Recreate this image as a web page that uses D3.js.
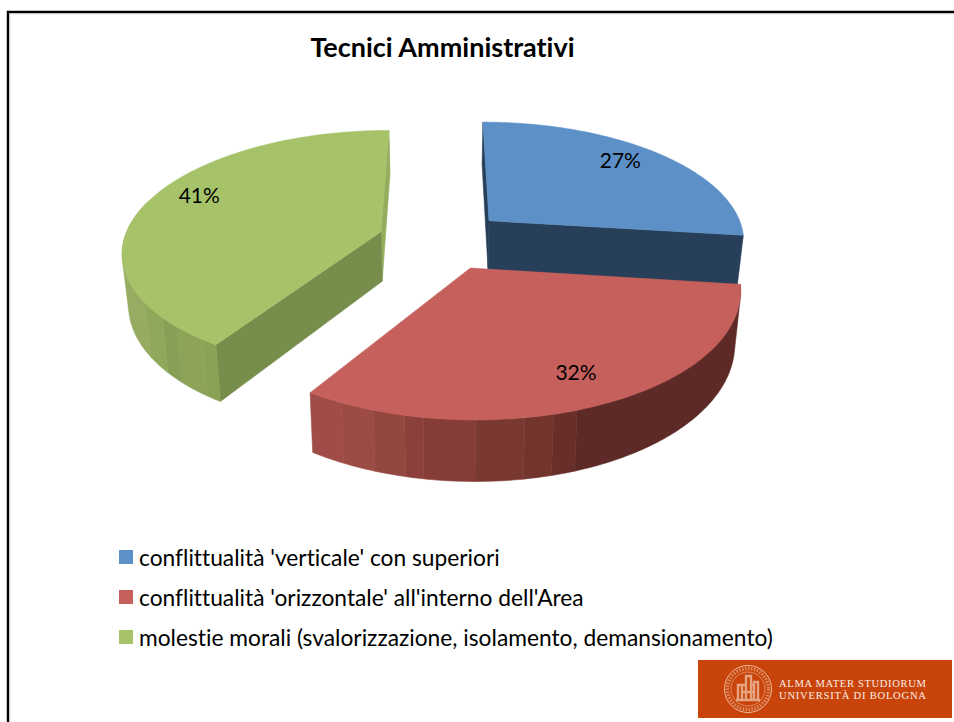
<!DOCTYPE html>
<html><head><meta charset="utf-8">
<style>html,body{margin:0;padding:0;background:#fff}svg{display:block}text{font-family:Lato,"Open Sans",sans-serif;fill:#000;font-variant-ligatures:none}</style>
<script src="https://cdn.jsdelivr.net/npm/d3@7"></script>
</head><body><svg id="c" width="954" height="722"></svg>
<script>
const title = "Tecnici Amministrativi";
const categories = ["conflittualità 'verticale' con superiori","conflittualità 'orizzontale' all'interno dell'Area","molestie morali (svalorizzazione, isolamento, demansionamento)"];
const values = [27, 32, 41];
const topColors = ["#5c90c6","#c6605c","#a7c36a"];
const cutColors = ["#273f58","#5e2a27","#768d4b"];
const sliverColors = ["#273f58","#5e2a27","#93ad5d"];
const wallBandAngles = [[],[161,165.6,171,180,189.5,193,199,205.5],[216,223.6,228.6,236,241]];
const wallBandColors = [[],["#5e2a27","#692e29","#73342d","#7a3930","#863d37","#8c403b","#94473f","#9c4b45","#a04c48"],["#8aa254","#8ca358","#879f57","#90a85b","#96ab5f","#97ac62"]];
const labelAngles = [45.5, 154.9, 292.8];
const labelRadii = [0.82, 0.80, 0.825];

const svg = d3.select("#c");
const rad = Math.PI/180;
const explode = 0.25, depthD = 6.55, thickness = 50, bottomShrink = 0.98;
const xS = d3.scaleLinear().domain([-1,1]).range([442-257,442+257]);
const yS = d3.scaleLinear().domain([0,1]).range([-541,-541+5116]);
function project(X,Y,z){
  const s = depthD/(Y+depthD);
  const x = xS(0)+(xS(X)-xS(0))*s*(1-(1-bottomShrink)*z);
  const y = yS(1/(Y+depthD))+thickness*s*z;
  return [x,y];
}
const pie = d3.pie().sort(null).startAngle(0).endAngle(2*Math.PI);
const arcs = pie(values);
const line = d3.line();
const poly = (g,pts,col)=>g.append("path").attr("d",line(pts)+"Z").attr("fill",col).attr("stroke",col).attr("stroke-width",0.6);

// frame
svg.append("path").attr("d","M8 722V12H954").attr("fill","none").attr("stroke","#000").attr("stroke-width",2.4);
svg.append("path").attr("d","M9.8 722V13.8H954").attr("fill","none").attr("stroke","#ccc").attr("stroke-width",0.8);

// title
svg.append("text").attr("x",442.5).attr("y",57).attr("text-anchor","middle").attr("font-size",27).attr("font-weight",700).text(title);

// pie: blue, red, green painter order
const chart = svg.append("g");
arcs.forEach((a,i)=>{
  const mid=(a.startAngle+a.endAngle)/2;
  const ox=explode*Math.sin(mid), oy=explode*Math.cos(mid);
  const P=(ang,r,z)=>project(ox+r*Math.sin(ang),oy+r*Math.cos(ang),z);
  const g=chart.append("g");
  if(i===2) poly(g,[P(a.endAngle,1,0),P(0,0,0),P(0,0,1),P(a.endAngle,1,1)],sliverColors[i]);
  if(i===0) { poly(g,[P(a.startAngle,1,0),P(0,0,0),P(0,0,1),P(a.startAngle,1,1)],cutColors[i]);
              poly(g,[P(a.endAngle,1,0),P(0,0,0),P(0,0,1),P(a.endAngle,1,1)],cutColors[i]); }
  if(i===2) poly(g,[P(a.startAngle,1,0),P(0,0,0),P(0,0,1),P(a.startAngle,1,1)],cutColors[i]);
  // outer wall: convex hull of each shading band, so the silhouette tangents are filled
  if(i>0){
    const end=Math.min(a.endAngle,285*rad);
    const cuts=[a.startAngle,...wallBandAngles[i].map(d=>d*rad),end];
    cuts.slice(0,-1).forEach((c,b)=>{
      const ts=d3.range(c,cuts[b+1],1*rad).concat([cuts[b+1]]);
      const hull=d3.polygonHull(ts.map(t=>P(t,1,0)).concat(ts.map(t=>P(t,1,1))));
      poly(g,hull,wallBandColors[i][b]);
    });
  }
  // top
  const tops=d3.range(a.startAngle,a.endAngle,1*rad).concat([a.endAngle]).map(t=>P(t,1,0));
  tops.push(P(0,0,0));
  g.append("path").attr("d",line(tops)+"Z").attr("fill",topColors[i]).attr("stroke",topColors[i]).attr("stroke-width",0.5);
});
// data labels
arcs.forEach((a,i)=>{
  const mid=(a.startAngle+a.endAngle)/2;
  const la=labelAngles[i]*rad, r=labelRadii[i];
  const p=project(explode*Math.sin(mid)+r*Math.sin(la),explode*Math.cos(mid)+r*Math.cos(la),0);
  svg.append("text").attr("x",p[0]).attr("y",p[1]+7).attr("text-anchor","middle").attr("font-size",21).text(values[i]+"%");
});

// legend
const legY=d3.scalePoint().domain(categories).range([557,637]);
const leg=svg.append("g").selectAll("g").data(categories).join("g").attr("transform",d=>`translate(0,${legY(d)})`);
leg.append("rect").attr("x",119).attr("y",-7).attr("width",14).attr("height",14).attr("fill",(d,i)=>topColors[i]);
leg.append("text").attr("x",139).attr("y",8.5).attr("font-size",22.75).text(d=>d);

// logo
const logo=svg.append("g");
logo.append("rect").attr("x",698).attr("y",660).attr("width",254).attr("height",58).attr("fill","#c8440a");
const seal=logo.append("g").attr("transform","translate(748,689)").attr("fill","none").attr("stroke","#eebb9c");
seal.append("circle").attr("r",23.5).attr("stroke-width",1);
seal.append("circle").attr("r",17).attr("stroke-width",0.6);
seal.append("circle").attr("r",20.5).attr("stroke-width",3.5).attr("stroke-dasharray","1.5 1.5").attr("opacity",0.6);
seal.append("path").attr("d","M-10 11V-4H-6V11M-2 11V-13H3V11M6 11V-7H10V11M-12 11H12M-6 3H6M-6 -4H-2M3 -4H6").attr("stroke-width",2.4).attr("opacity",0.8);
const logoLines=["ALMA MATER STUDIORUM","UNIVERSITÀ DI BOLOGNA"];
const logoY=d3.scalePoint().domain(logoLines).range([687,699]);
logo.selectAll("text.l").data(logoLines).join("text").attr("class","l").attr("x",779).attr("y",d=>logoY(d))
  .attr("textLength",147).attr("lengthAdjust","spacing").attr("font-size",10.6)
  .style("font-family","'Liberation Serif',serif").style("fill","#fbeee6").text(d=>d);
</script></body></html>
